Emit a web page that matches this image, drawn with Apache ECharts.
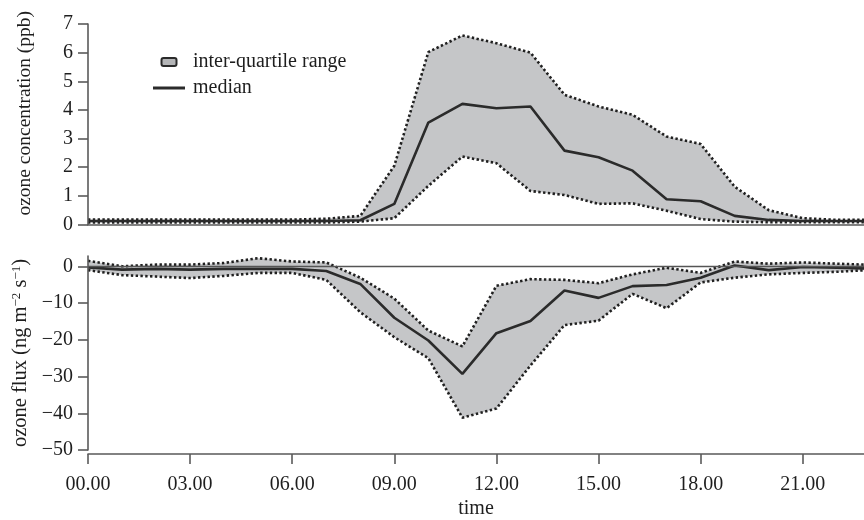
<!DOCTYPE html>
<html><head><meta charset="utf-8">
<script src="https://cdn.jsdelivr.net/npm/echarts@6/dist/echarts.min.js"></script>
<style>html,body{margin:0;padding:0;background:#fff}#c{width:864px;height:520px}</style>
</head><body><div id="c"></div>
<script>
const hours = [0,1,2,3,4,5,6,7,8,9,10,11,12,13,14,15,16,17,18,19,20,21,22,23];
const ozoneUpper  = [0.17,0.17,0.17,0.17,0.17,0.17,0.17,0.2,0.3,2.05,6.02,6.6,6.33,6.0,4.53,4.12,3.83,3.07,2.81,1.32,0.5,0.22,0.16,0.16];
const ozoneMedian = [0.12,0.12,0.12,0.12,0.12,0.12,0.12,0.12,0.15,0.72,3.56,4.21,4.06,4.12,2.58,2.35,1.88,0.88,0.81,0.3,0.16,0.12,0.12,0.12];
const ozoneLower  = [0.07,0.07,0.07,0.07,0.07,0.07,0.07,0.07,0.1,0.22,1.35,2.37,2.14,1.17,1.03,0.72,0.74,0.48,0.19,0.1,0.08,0.08,0.08,0.08];
const fluxUpper  = [1.5,0,0.45,0.45,0.9,2.2,1.3,1.05,-3.1,-8.8,-17.5,-21.8,-5.3,-3.5,-3.7,-4.6,-2.2,-0.4,-1.8,1.3,0.7,1.05,0.7,0.4];
const fluxMedian = [-0.3,-0.9,-0.7,-0.9,-0.7,-0.7,-0.7,-1.3,-4.8,-14,-20.2,-29.3,-18.2,-14.9,-6.6,-8.6,-5.4,-5.1,-3.1,0.2,-1.05,-0.2,-0.4,-0.6];
const fluxLower  = [-1.05,-2.4,-2.8,-3.2,-2.6,-1.8,-1.8,-3.7,-12.5,-19.3,-25,-41.2,-38.7,-27,-16,-14.8,-7.5,-11.4,-4.4,-3.1,-2.2,-1.8,-1.5,-1.0];
const xTickLabels = ['00.00','03.00','06.00','09.00','12.00','15.00','18.00','21.00'];
const ozoneTicks = [0,1,2,3,4,5,6,7];
const fluxTicks = [-50,-40,-30,-20,-10,0];

const FONT = 'Liberation Serif';
const AX = '#5a5a5a';
const TXT = '#1e1e1e';
const BAND = '#c5c6c8';
const pairs = arr => hours.map((h,i)=>[h,arr[i]]);
const dotted = {color:'#202020', width:2.6, type:[2.4,2.4], cap:'butt'};
const minus = v => v < 0 ? '\u2212' + (-v) : String(v);

// band = gray area from upper down to axis start, then white area from lower down to axis start
function bandSeries(xi, lower, upper, legendName){
  return [
    {type:'line', name:legendName, xAxisIndex:xi, yAxisIndex:xi, data:pairs(upper), symbol:'none',
     lineStyle:{opacity:0}, areaStyle:{color:BAND, opacity:1, origin:'start'},
     itemStyle:{color:'#b4b5b7', borderColor:'#2a2a2a', borderWidth:2}, z:1},
    {type:'line', xAxisIndex:xi, yAxisIndex:xi, data:pairs(lower), symbol:'none',
     lineStyle:{opacity:0}, areaStyle:{color:'#ffffff', opacity:1, origin:'start'}, z:2, silent:true},
    {type:'line', xAxisIndex:xi, yAxisIndex:xi, data:pairs(upper), symbol:'none', lineStyle:dotted, z:3},
    {type:'line', xAxisIndex:xi, yAxisIndex:xi, data:pairs(lower), symbol:'none', lineStyle:dotted, z:3}
  ];
}

const chart = echarts.init(document.getElementById('c'));
chart.setOption({
  animation:false,
  backgroundColor:'#fff',
  textStyle:{fontFamily:FONT},
  grid:[
    {left:88, right:0, top:24, bottom:295.5},
    {left:88, right:0, top:256, bottom:64}
  ],
  legend:{
    orient:'vertical', left:148, top:47, itemWidth:32, itemHeight:8, itemGap:6,
    textStyle:{fontFamily:FONT, fontSize:20, color:TXT, lineHeight:20, padding:[0,0,0,3]},
    data:[
      {name:'inter-quartile range', icon:'path://M2,0h11a2,2 0 0 1 2,2v4a2,2 0 0 1 -2,2h-11a2,2 0 0 1 -2,-2v-4a2,2 0 0 1 2,-2z',
       itemStyle:{color:'#b4b5b7', borderColor:'#2a2a2a', borderWidth:2}},
      {name:'median', icon:'path://M0,0h32v3h-32z', itemStyle:{color:'#2b2b2b', borderWidth:0}}
    ]
  },
  xAxis:[
    {type:'value', gridIndex:0, min:0, max:22.8, interval:3,
     axisLine:{show:true, onZero:false, lineStyle:{color:AX, width:1.6}}, axisTick:{show:false}, axisLabel:{show:false}, splitLine:{show:false}, z:5},
    {type:'value', gridIndex:1, min:0, max:22.8, interval:3, offset:4,
     name:'time', nameLocation:'middle', nameGap:45, nameTextStyle:{fontFamily:FONT, fontSize:20, color:TXT},
     axisLine:{show:true, onZero:false, lineStyle:{color:AX, width:1.6}},
     axisTick:{show:true, inside:false, length:10, lineStyle:{color:AX, width:1.6}},
     axisLabel:{fontFamily:FONT, fontSize:20, color:TXT, margin:21, showMaxLabel:false,
       formatter:v => xTickLabels[Math.round(v/3)] || ''},
     splitLine:{show:false}}
  ],
  yAxis:[
    {type:'value', gridIndex:0, min:0, max:7, interval:1,
     name:'ozone concentration (ppb)', nameLocation:'middle', nameRotate:90, nameGap:53,
     nameTextStyle:{fontFamily:FONT, fontSize:19.5, color:TXT, padding:[0,0,0,22]},
     axisLine:{show:true, lineStyle:{color:AX, width:1.6}},
     axisTick:{show:true, length:10, lineStyle:{color:AX, width:1.6}, customValues:ozoneTicks},
     axisLabel:{fontFamily:FONT, fontSize:20, color:TXT, margin:15, customValues:ozoneTicks},
     splitLine:{show:false}, z:5},
    {type:'value', gridIndex:1, min:-50, max:2.8,
     name:'ozone flux (ng m{s|\u22122} s{s|\u22121})', nameLocation:'middle', nameRotate:90, nameGap:49,
     nameTextStyle:{fontFamily:FONT, fontSize:20.5, color:TXT,
       rich:{s:{fontFamily:FONT, fontSize:13, color:TXT, verticalAlign:'top', padding:[0,0,8,0]}}},
     axisLine:{show:true, lineStyle:{color:AX, width:1.6}},
     axisTick:{show:true, length:10, lineStyle:{color:AX, width:1.6}, customValues:fluxTicks},
     axisLabel:{fontFamily:FONT, fontSize:20, color:TXT, margin:15, customValues:fluxTicks, formatter:minus},
     splitLine:{show:false}, z:5}
  ],
  series:[
    ...bandSeries(0, ozoneLower, ozoneUpper, 'inter-quartile range'),
    {type:'line', name:'median', xAxisIndex:0, yAxisIndex:0, data:pairs(ozoneMedian), symbol:'none',
     lineStyle:{color:'#2b2b2b', width:2.6}, itemStyle:{color:'#2b2b2b'}, z:4},
    ...bandSeries(1, fluxLower, fluxUpper, 'iqr-flux'),
    {type:'line', xAxisIndex:1, yAxisIndex:1, data:pairs(fluxMedian), symbol:'none',
     lineStyle:{color:'#2b2b2b', width:2.6}, z:4,
     markLine:{silent:true, symbol:'none', label:{show:false}, lineStyle:{color:'#555', width:1.3, type:'solid'},
       data:[{yAxis:0}]}}
  ]
});
</script></body></html>
